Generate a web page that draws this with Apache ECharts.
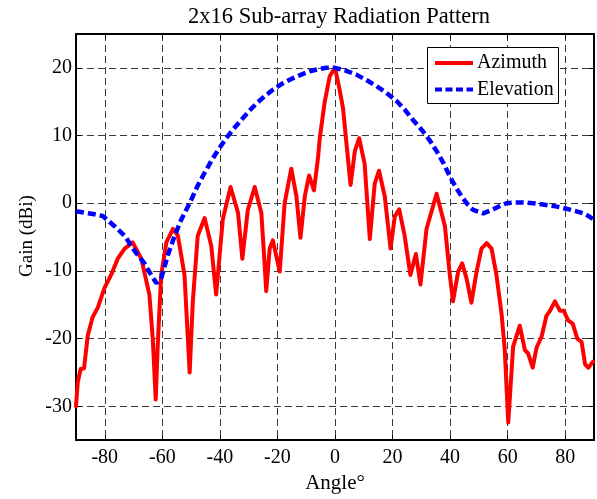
<!DOCTYPE html>
<html>
<head>
<meta charset="utf-8">
<script src="https://cdn.jsdelivr.net/npm/echarts@6/dist/echarts.min.js"></script>
<style>html,body{margin:0;padding:0;background:#fff}#c{width:597px;height:499px}</style>
</head>
<body>
<div id="c"></div>
<script>
const titleText = '2x16 Sub-array Radiation Pattern';
const xName = 'Angle\u00B0';
const yName = 'Gain (dBi)';
const seriesNames = ['Azimuth', 'Elevation'];
const xTicks = [-80, -60, -40, -20, 0, 20, 40, 60, 80];
const yTicks = [-30, -20, -10, 0, 10, 20];

const azAngles = [-90,-89.4,-88.4,-87.2,-85.9,-84.2,-82.4,-80.1,-77.8,-75.5,-73.1,-70.3,-67.3,-64.5,-63.3,-62.3,-61.6,-60.4,-58.6,-56.3,-54.6,-52.3,-50.5,-49.4,-47.7,-45.3,-43,-41.3,-39,-36.3,-33.7,-32.2,-30.3,-27.9,-25.6,-24.5,-23.9,-22.7,-21.6,-19.2,-17.5,-15.2,-13.4,-12,-10.5,-9,-7.3,-5.9,-5.3,-3.6,-1.8,0,1.5,2.8,5.4,6.9,8.4,10.3,12.1,13.8,15.3,17.3,19.3,20.8,22.3,24.2,26.2,28.1,29.7,31.8,35.3,38.2,39.9,41,42.8,44.2,45.7,47.4,49.2,50.9,52.7,54.4,56.1,57.9,59,60.2,61.9,64.2,66,67.1,68.7,70,71.8,73.5,74.7,76.4,78.2,79.5,81,82.6,84.2,85.7,86.9,88,89.7];
const azGain = [-30,-26.5,-24.5,-24.4,-19.5,-16.8,-15.4,-12.5,-10.6,-8.2,-6.7,-5.8,-8.2,-13.5,-20.2,-29,-21,-10.6,-5.8,-3.8,-4.8,-10.6,-25,-14.5,-4.8,-2.2,-6.3,-13.5,-2.4,2.4,-1.4,-8.2,-1,2.4,-1.4,-8.7,-13,-6.7,-5.5,-10.1,0,5.1,1,-5.1,1,4.1,1.9,6.7,9.6,14.9,18.8,20,17,14,2.7,7.7,9.6,5.8,-5.3,2.9,4.8,1,-6.7,-1.9,-0.9,-4.8,-10.6,-7.5,-12,-3.8,1.4,-3.4,-10.6,-14.5,-10.1,-8.9,-11.1,-14.7,-10.1,-6.7,-5.9,-6.7,-10.6,-16.4,-21.7,-32.4,-21.2,-18.1,-21.7,-22.2,-24.3,-21.4,-19.7,-16.6,-15.9,-14.5,-15.9,-15.9,-17.3,-17.8,-20,-20.5,-23.8,-24.3,-23.4];

const elAngles = [-90,-87,-84,-80.7,-76.6,-73.1,-69.7,-66.2,-63.5,-62,-60.4,-58.1,-55.7,-53.4,-50.5,-47.7,-45.3,-42.5,-40.7,-38.3,-36,-33,-30.3,-27.4,-24.5,-21.5,-18.6,-15,-11.7,-8.8,-5.9,-3,0,3.7,7.4,10.9,14.4,17.9,21.4,24.3,27.1,30,32.9,35.3,37.6,39.3,41,42.8,44.5,46.3,48,51.5,55,57.3,59.6,62.5,65.4,68.8,72.3,75.8,79.3,84,87,89.2,90];
const elGain = [-1.2,-1.4,-1.6,-1.9,-3.4,-4.8,-7,-8.9,-10.9,-11.8,-11.1,-7.7,-4.8,-2.4,0,2.6,4.5,6.6,7.8,9.3,10.6,12.1,13.4,14.7,15.8,16.8,17.6,18.4,19,19.5,19.8,20,20,19.6,19,18.2,17.3,16.3,15.1,13.8,12.3,10.9,9.3,7.7,6,4.5,3.1,1.8,0.7,-0.3,-1,-1.5,-0.9,-0.4,0,0.1,0.1,0,-0.2,-0.4,-0.7,-1.2,-1.6,-2.2,-2.5];

const FONT = '"Liberation Serif", "DejaVu Serif", serif';
const azData = azAngles.map((a, i) => [a, azGain[i]]);
const elData = elAngles.map((a, i) => [a, elGain[i]]);

const gridLine = { show: true, lineStyle: { color: '#3a3a3a', width: 1, type: [7, 4] } };
const frameLine = { show: true, onZero: false, lineStyle: { color: '#000', width: 2 } };
const tickStyle = (vals) => ({ show: true, inside: true, length: 5, customValues: vals, lineStyle: { color: '#000', width: 1 } });

const RED = '#ff0000', BLUE = '#0000ff';

const chart = echarts.init(document.getElementById('c'), null, { renderer: 'canvas' });
chart.setOption({
  animation: false,
  backgroundColor: '#fff',
  title: {
    text: titleText, left: 334, top: 1, textAlign: 'center',
    textStyle: { fontFamily: FONT, fontSize: 22.5, fontWeight: 'normal', color: '#000' }
  },
  grid: { left: 76, right: 3, top: 34, bottom: 51, containLabel: false },
  xAxis: [{
    type: 'value', min: -90, max: 90, position: 'bottom',
    name: xName, nameLocation: 'middle', nameGap: 30,
    nameTextStyle: { fontFamily: FONT, fontSize: 21, color: '#000' },
    axisLine: frameLine,
    axisTick: tickStyle(xTicks),
    axisLabel: { customValues: xTicks, fontFamily: FONT, fontSize: 20, color: '#000', margin: 8 },
    splitLine: gridLine
  }, {
    type: 'value', min: -90, max: 90, position: 'top',
    axisLine: frameLine,
    axisTick: tickStyle(xTicks),
    axisLabel: { show: false }, splitLine: { show: false }
  }],
  yAxis: [{
    type: 'value', min: -35, max: 25, position: 'left',
    axisLine: frameLine,
    axisTick: tickStyle(yTicks),
    axisLabel: { customValues: yTicks, fontFamily: FONT, fontSize: 20, color: '#000', margin: 4 },
    splitLine: gridLine
  }, {
    type: 'value', min: -35, max: 25, position: 'right',
    axisLine: frameLine,
    axisTick: tickStyle(yTicks),
    axisLabel: { show: false }, splitLine: { show: false }
  }],
  graphic: [
    { type: 'text', x: 27, y: 236, rotation: Math.PI / 2,
      style: { text: yName, font: '19px ' + FONT, fill: '#000', align: 'center', verticalAlign: 'middle' } },
    { type: 'rect', shape: { x: 427.5, y: 47.5, width: 131, height: 56 },
      style: { fill: '#fff', stroke: '#000', lineWidth: 1 }, z: 100 },
    { type: 'line', shape: { x1: 435, y1: 63, x2: 473, y2: 63 },
      style: { stroke: RED, lineWidth: 4 }, z: 101 },
    { type: 'line', shape: { x1: 435, y1: 89.5, x2: 473, y2: 89.5 },
      style: { stroke: BLUE, lineWidth: 4, lineDash: [7, 3.5] }, z: 101 },
    { type: 'text', x: 477, y: 63, z: 101,
      style: { text: seriesNames[0], font: '20px ' + FONT, fill: '#000', verticalAlign: 'middle' } },
    { type: 'text', x: 477, y: 89.5, z: 101,
      style: { text: seriesNames[1], font: '20px ' + FONT, fill: '#000', verticalAlign: 'middle' } }
  ],
  series: [{
    name: seriesNames[0], type: 'line', data: azData, showSymbol: false, symbol: 'none',
    lineStyle: { color: RED, width: 4, join: 'round', cap: 'round' },
    itemStyle: { color: RED }, z: 3
  }, {
    name: seriesNames[1], type: 'line', data: elData, showSymbol: false, symbol: 'none',
    lineStyle: { color: BLUE, width: 4.5, type: [8, 4] },
    itemStyle: { color: BLUE }, z: 4
  }]
});
</script>
</body>
</html>
